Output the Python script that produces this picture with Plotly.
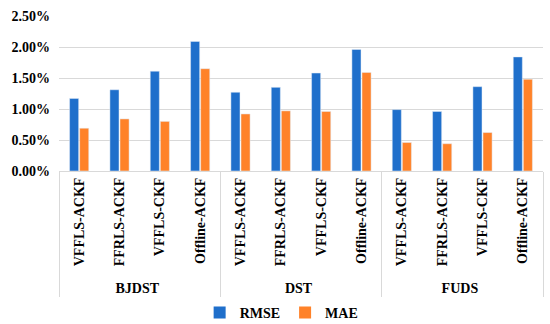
import plotly.graph_objects as go

groups = ["BJDST"] * 4 + ["DST"] * 4 + ["FUDS"] * 4
methods = ["VFFLS-ACKF", "FFRLS-ACKF", "VFFLS-CKF", "Offline-ACKF"] * 3
rmse = [1.17, 1.31, 1.61, 2.09, 1.27, 1.35, 1.58, 1.96, 0.99, 0.96, 1.36, 1.84]
mae = [0.69, 0.84, 0.80, 1.65, 0.92, 0.97, 0.96, 1.59, 0.46, 0.44, 0.62, 1.48]
yticks = [0, 0.5, 1.0, 1.5, 2.0, 2.5]
ytick_labels = ["0.00%", "0.50%", "1.00%", "1.50%", "2.00%", "2.50%"]
series_names = ["RMSE", "MAE"]
colors = ["#1F6FCB", "#FF8229"]

font_family = "Liberation Serif"

fig = go.Figure()
for name, vals, col in zip(series_names, [rmse, mae], colors):
    fig.add_trace(go.Bar(x=[groups, methods], y=vals, name=name,
                         marker=dict(color=col), showlegend=False))
# legend entries with small square markers
for name, col in zip(series_names, colors):
    fig.add_trace(go.Scatter(x=[None], y=[None], mode="markers", name=name,
                             marker=dict(symbol="square", size=8, color=col),
                             showlegend=True))

fig.update_layout(
    width=550, height=324,
    margin=dict(l=59, r=7, t=16, b=153, autoexpand=False),
    paper_bgcolor="white", plot_bgcolor="white",
    barmode="group", bargap=0.5, bargroupgap=0.1,
    font=dict(family=font_family, size=14, color="black"),
    showlegend=True,
    legend=dict(orientation="h", x=0.46, xanchor="center",
                yref="container", y=0.034, yanchor="middle",
                font=dict(family=font_family, size=14, color="black", weight="bold"),
                itemwidth=30, traceorder="normal", tracegroupgap=0,
                itemsizing="constant"),
)
fig.update_xaxes(
    type="multicategory",
    tickangle=-90,
    tickfont=dict(family=font_family, size=14, color="black", weight="bold"),
    showline=True, linecolor="#D9D9D9", linewidth=1,
    showdividers=True, dividercolor="#D9D9D9", dividerwidth=1,
    ticks="", automargin=False,
)
fig.update_yaxes(
    range=[0, 2.5],
    tickvals=yticks, ticktext=ytick_labels,
    tickfont=dict(family=font_family, size=14, color="black", weight="bold"),
    ticklabelstandoff=8,
    showgrid=True, gridcolor="#D9D9D9", gridwidth=1,
    zeroline=False, showline=False, automargin=False,
)

fig.write_html("out.html", config={"displayModeBar": False},
               post_script="document.body.style.margin='0';")
